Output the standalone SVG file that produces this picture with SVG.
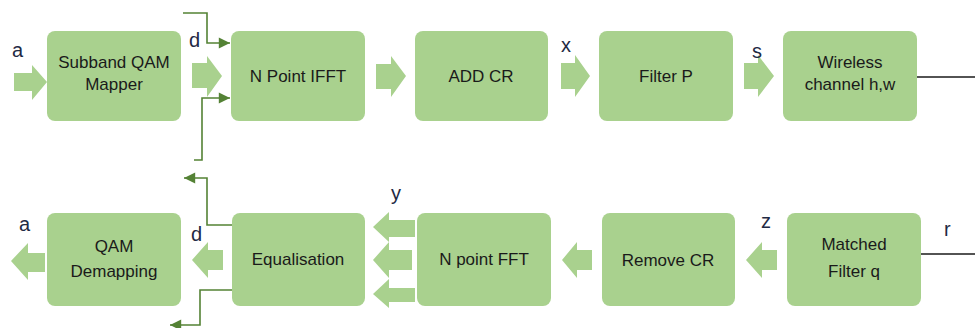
<svg xmlns="http://www.w3.org/2000/svg" width="975" height="328" viewBox="0 0 975 328">
<style>
.box{fill:#a9d18e}
.blk{fill:#a9d18e}
.t{font-family:"Liberation Sans",Arial,sans-serif;font-size:17px;fill:#1a1a1a;text-anchor:middle}
.lb{font-family:"Liberation Sans",Arial,sans-serif;font-size:20px;fill:#1f2a44}
.ln{fill:none;stroke:#548235;stroke-width:1.6}
.bk{fill:none;stroke:#1a1a1a;stroke-width:1.6}
</style>
<defs>
<marker id="ah" viewBox="0 0 10 10" refX="10" refY="5" markerWidth="7.5" markerHeight="7" markerUnits="strokeWidth" orient="auto">
<path d="M0,0 L10,5 L0,10 z" fill="#548235"/>
</marker>
</defs>
<rect width="975" height="328" fill="#ffffff"/>
<g id="connectors">
<path class="blk" d="M14,73 H32 V65 L47,82 L32,100 V91 H14 z"/>
<path class="blk" d="M192,63 H207 V56 L222,76 L207,97 V88 H192 z"/>
<path class="blk" d="M376,64 H391 V56 L406,76 L391,97 V89 H376 z"/>
<path class="blk" d="M561,63 H575 V55 L590,76 L575,97 V89 H561 z"/>
<path class="blk" d="M744,63 H758 V55 L774,76 L758,97 V89 H744 z"/>
<path class="blk" d="M777,250 H762 V242 L746,260 L762,278 V270 H777 z"/>
<path class="blk" d="M592,250 H577 V242 L562,260 L577,278 V270 H592 z"/>
<path class="blk" d="M415,220 H389 V212 L373,227 L389,242 V237 H415 z"/>
<path class="blk" d="M412,250 H389 V242 L373,260 L389,278 V270 H412 z"/>
<path class="blk" d="M415,288 H389 V279 L373,294 L389,308 V302 H415 z"/>
<path class="blk" d="M223,250 H208 V242 L192,260 L208,278 V270 H223 z"/>
<path class="blk" d="M45,253 H28 V243 L11,261 L28,280 V272 H45 z"/>
<path class="ln" d="M183,13 H207 V43 H230" marker-end="url(#ah)"/>
<path class="ln" d="M194,160 H202 V98 H230" marker-end="url(#ah)"/>
<path class="ln" d="M232,225 H207 V178 H184" marker-end="url(#ah)"/>
<path class="ln" d="M232,290 H200 V325 H170" marker-end="url(#ah)"/>
<path class="bk" d="M917,77 H975"/>
<path class="bk" d="M921,254 H975"/>
</g>
<g id="mapper"><rect class="box" x="47" y="31" width="134" height="90" rx="8"/><text class="t" x="114" y="68">Subband QAM</text><text class="t" x="114" y="90">Mapper</text></g>
<g id="ifft"><rect class="box" x="231" y="31" width="134" height="90" rx="8"/><text class="t" x="298" y="82">N Point IFFT</text></g>
<g id="addcr"><rect class="box" x="415" y="31" width="133" height="90" rx="8"/><text class="t" x="481" y="82">ADD CR</text></g>
<g id="filterp"><rect class="box" x="599" y="31" width="134" height="90" rx="8"/><text class="t" x="666" y="82">Filter P</text></g>
<g id="channel"><rect class="box" x="783" y="31" width="134" height="90" rx="8"/><text class="t" x="850" y="68">Wireless</text><text class="t" x="850" y="90">channel h,w</text></g>
<g id="demap"><rect class="box" x="47" y="213" width="134" height="93" rx="8"/><text class="t" x="114" y="252">QAM</text><text class="t" x="114" y="277">Demapping</text></g>
<g id="equal"><rect class="box" x="232" y="213" width="133" height="93" rx="8"/><text class="t" x="298" y="265">Equalisation</text></g>
<g id="fft"><rect class="box" x="417" y="213" width="134" height="93" rx="8"/><text class="t" x="484" y="265">N point FFT</text></g>
<g id="removecr"><rect class="box" x="602" y="213" width="133" height="93" rx="8"/><text class="t" x="668" y="266">Remove CR</text></g>
<g id="matched"><rect class="box" x="787" y="213" width="134" height="93" rx="8"/><text class="t" x="854" y="250">Matched</text><text class="t" x="854" y="277">Filter q</text></g>
<g id="labels">
<text class="lb" x="12" y="57">a</text>
<text class="lb" x="189" y="47">d</text>
<text class="lb" x="561" y="52">x</text>
<text class="lb" x="752" y="58">s</text>
<text class="lb" x="19" y="231">a</text>
<text class="lb" x="191" y="241">d</text>
<text class="lb" x="391" y="200">y</text>
<text class="lb" x="761" y="228">z</text>
<text class="lb" x="944" y="236">r</text>
</g>
</svg>
